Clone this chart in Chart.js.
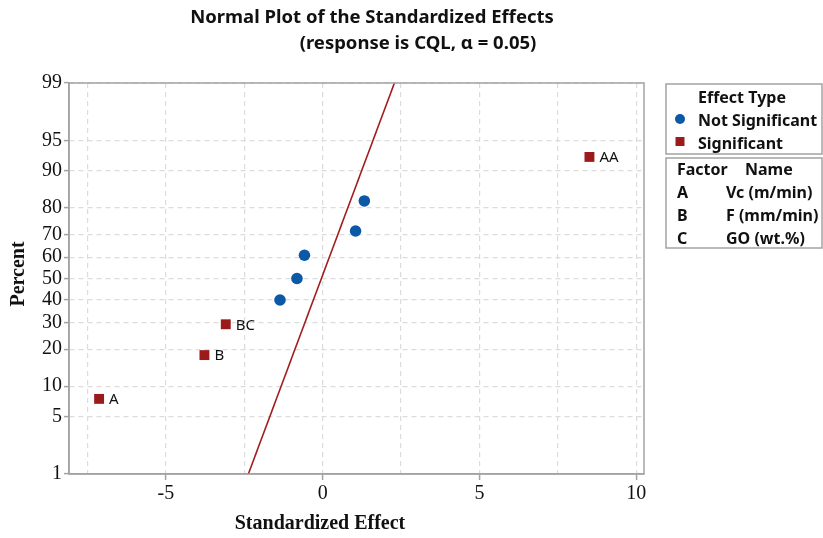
<!DOCTYPE html>
<html>
<head>
<meta charset="utf-8">
<script src="https://cdn.jsdelivr.net/npm/chart.js@4.4.1/dist/chart.umd.min.js"></script>
<style>
  html, body { margin: 0; padding: 0; background: #fff; }
  #wrap { width: 823px; height: 538px; }
</style>
</head>
<body>
<div id="wrap"><canvas id="effects" width="823" height="538"></canvas></div>
<script>
// values
const sigLabels = ['A', 'B', 'BC', 'AA'];
const sigEffect = [-7.13, -3.77, -3.09, 8.51];
const sigPercent = [7.6, 18.1, 29.3, 92.6];

const nsEffect = [-1.36, -0.82, -0.58, 1.05, 1.33];
const nsPercent = [39.9, 50.0, 60.9, 71.4, 82.2];

const lineEffect = [-2.37, 2.29];
const linePercent = [1, 99];

const yTickPercents = [1, 5, 10, 20, 30, 40, 50, 60, 70, 80, 90, 95, 99];
const xGridValues = [-7.5, -5, -2.5, 0, 2.5, 5, 7.5, 10];
const xTickLabels = [-5, 0, 5, 10];

const factorCodes = ['A', 'B', 'C'];
const factorNames = ['Vc (m/min)', 'F (mm/min)', 'GO (wt.%)'];

const BLUE = '#0b58a6';
const RED = '#9b1b1b';
const AXIS = '#a3a3a3';
const SANS = '"Noto Sans", "Open Sans", sans-serif';
const SERIF = '"Liberation Serif", "DejaVu Serif", serif';

// inverse normal cdf (Acklam), percent -> z
function probit(pct){
  let p = pct / 100;
  const a = [-39.69683028665376, 220.9460984245205, -275.9285104469687, 138.3577518672690, -30.66479806614716, 2.506628277459239];
  const b = [-54.47609879822406, 161.5858368580409, -155.6989798598866, 66.80131188771972, -13.28068155288572];
  const c = [-0.007784894002430293, -0.3223964580411365, -2.400758277161838, -2.549732539343734, 4.374664141464968, 2.938163982698783];
  const d = [0.007784695709041462, 0.3224671290700398, 2.445134137142996, 3.754408661907416];
  const pl = 0.02425;
  let q, r;
  if (p < pl) {
    q = Math.sqrt(-2 * Math.log(p));
    return (((((c[0]*q+c[1])*q+c[2])*q+c[3])*q+c[4])*q+c[5]) / ((((d[0]*q+d[1])*q+d[2])*q+d[3])*q+1);
  }
  if (p > 1 - pl) {
    q = Math.sqrt(-2 * Math.log(1 - p));
    return -(((((c[0]*q+c[1])*q+c[2])*q+c[3])*q+c[4])*q+c[5]) / ((((d[0]*q+d[1])*q+d[2])*q+d[3])*q+1);
  }
  q = p - 0.5; r = q * q;
  return (((((a[0]*r+a[1])*r+a[2])*r+a[3])*r+a[4])*r+a[5])*q / (((((b[0]*r+b[1])*r+b[2])*r+b[3])*r+b[4])*r+1);
}

function toPoints(xs, ps){
  return xs.map((x, i) => ({x: x, y: probit(ps[i])}));
}

const extras = {
  id: 'extras',
  afterDraw(chart){
    const ctx = chart.ctx;
    const area = chart.chartArea;
    const xs = chart.scales.x, ys = chart.scales.y;
    ctx.save();

    // frame
    ctx.strokeStyle = AXIS;
    ctx.lineWidth = 1.5;
    ctx.strokeRect(area.left, area.top, area.right - area.left, area.bottom - area.top);

    // titles
    ctx.fillStyle = '#111';
    ctx.textBaseline = 'middle';
    ctx.textAlign = 'center';
    ctx.font = 'bold 18.5px ' + SANS;
    ctx.fillText('Normal Plot of the Standardized Effects', 372, 18);
    ctx.fillText('(response is CQL, \u03b1 = 0.05)', 418, 44);

    ctx.font = 'bold 20px ' + SERIF;
    ctx.fillText('Standardized Effect', 320, 524);
    ctx.save();
    ctx.translate(19, 274);
    ctx.rotate(-Math.PI / 2);
    ctx.fillText('Percent', 0, 0);
    ctx.restore();

    // labels next to the significant effects
    ctx.font = '15px ' + SANS;
    ctx.textAlign = 'left';
    sigLabels.forEach((lab, i) => {
      const px = xs.getPixelForValue(sigEffect[i]);
      const py = ys.getPixelForValue(probit(sigPercent[i]));
      ctx.fillText(lab, px + 10, py + 1);
    });

    // legend boxes
    ctx.strokeStyle = AXIS;
    ctx.lineWidth = 1.5;
    ctx.strokeRect(666, 84, 156, 70);
    ctx.strokeRect(666, 158, 156, 90);

    ctx.font = 'bold 16px ' + SANS;
    ctx.fillStyle = '#111';
    ctx.fillText('Effect Type', 698, 98);
    ctx.fillText('Not Significant', 698, 121);
    ctx.fillText('Significant', 698, 144);
    ctx.fillStyle = BLUE;
    ctx.beginPath();
    ctx.arc(680, 119, 5, 0, Math.PI * 2);
    ctx.fill();
    ctx.fillStyle = RED;
    ctx.fillRect(675.5, 137, 9, 9);

    ctx.fillStyle = '#111';
    ctx.fillText('Factor', 677, 170);
    ctx.fillText('Name', 745, 170);
    factorCodes.forEach((f, i) => {
      const yy = 193 + i * 23;
      ctx.fillText(f, 677, yy);
      ctx.fillText(factorNames[i], 726, yy);
    });

    ctx.restore();
  }
};

new Chart(document.getElementById('effects'), {
  type: 'scatter',
  data: {
    datasets: [
      {
        label: 'Fit',
        type: 'line',
        data: toPoints(lineEffect, linePercent),
        borderColor: '#a11d1d',
        borderWidth: 1.6,
        pointRadius: 0,
        fill: false,
        order: 3
      },
      {
        label: 'Not Significant',
        data: toPoints(nsEffect, nsPercent),
        pointStyle: 'circle',
        pointRadius: 5.8,
        backgroundColor: BLUE,
        borderColor: BLUE,
        borderWidth: 0,
        order: 1
      },
      {
        label: 'Significant',
        data: toPoints(sigEffect, sigPercent),
        pointStyle: 'rect',
        pointRadius: 7,
        backgroundColor: RED,
        borderColor: RED,
        borderWidth: 0,
        order: 2
      }
    ]
  },
  options: {
    responsive: false,
    animation: false,
    layout: { padding: { left: 0, top: 83, right: 179, bottom: 0 } },
    plugins: {
      legend: { display: false },
      tooltip: { enabled: false },
      title: { display: false }
    },
    scales: {
      x: {
        type: 'linear',
        min: -8.09,
        max: 10.25,
        afterBuildTicks: (scale) => { scale.ticks = xGridValues.map(v => ({value: v})); },
        afterFit: (scale) => { scale.height = 64; },
        ticks: {
          autoSkip: false,
          maxRotation: 0,
          padding: 2,
          color: '#111',
          font: { family: SERIF, size: 20 },
          callback: (v) => xTickLabels.includes(v) ? String(v) : ''
        },
        grid: {
          color: '#dcdcdc',
          lineWidth: 1.2,
          tickLength: 6,
          tickColor: (c) => (c.tick && xTickLabels.includes(c.tick.value)) ? AXIS : 'rgba(0,0,0,0)',
          tickWidth: 1.5
        },
        border: { color: AXIS, width: 1.5, dash: [5, 4] }
      },
      y: {
        type: 'linear',
        min: probit(1),
        max: probit(99),
        afterBuildTicks: (scale) => { scale.ticks = yTickPercents.map(p => ({value: probit(p)})); },
        afterFit: (scale) => { scale.width = 69; },
        ticks: {
          autoSkip: false,
          padding: 2,
          color: '#111',
          font: { family: SERIF, size: 20 },
          callback: (v, i) => String(yTickPercents[i])
        },
        grid: {
          color: '#dcdcdc',
          lineWidth: 1.2,
          tickLength: 5,
          tickColor: AXIS,
          tickWidth: 1.5
        },
        border: { color: AXIS, width: 1.5, dash: [5, 4] }
      }
    }
  },
  plugins: [extras]
});
</script>
</body>
</html>
